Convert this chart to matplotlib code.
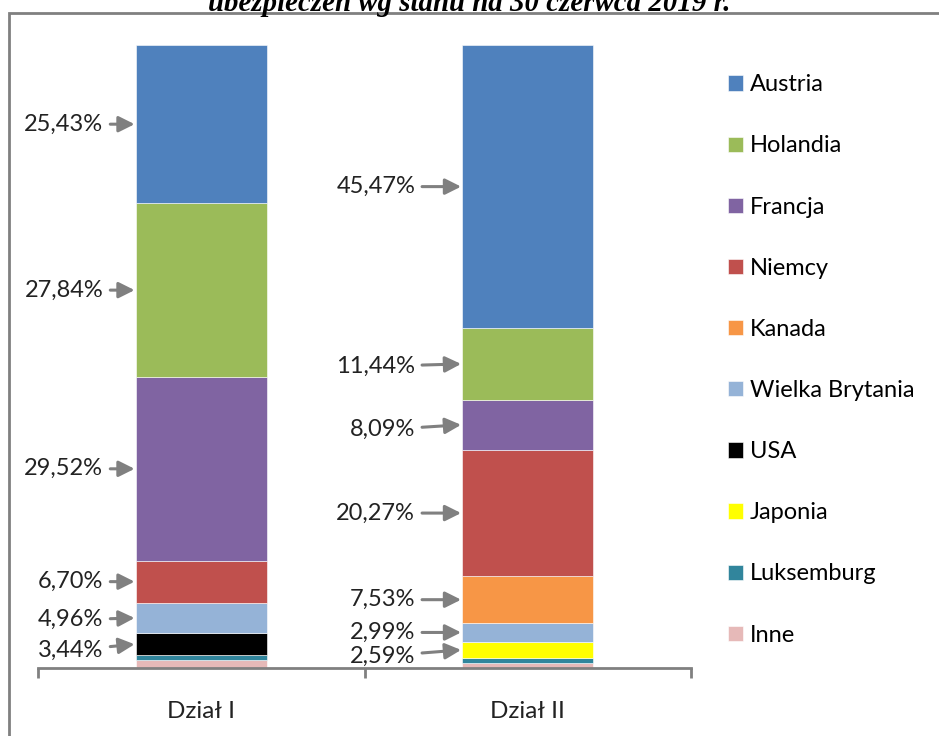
import matplotlib.pyplot as plt
from matplotlib.patches import Rectangle

plt.rcParams['font.family'] = ['Lato', 'DejaVu Sans']

categories = ['Dział I', 'Dział II']
countries = ['Inne', 'Luksemburg', 'Japonia', 'USA', 'Wielka Brytania',
             'Kanada', 'Niemcy', 'Francja', 'Holandia', 'Austria']
colors = ['#E6B9B8', '#31859C', '#FFFF00', '#000000', '#95B3D7',
          '#F79646', '#C0504D', '#8064A2', '#9BBB59', '#4F81BD']

# udzialy w % (Dzial I, Dzial II)
inne = [1.31, 0.77]
luksemburg = [0.80, 0.85]
japonia = [0.0, 2.59]
usa = [3.44, 0.0]
wielka_brytania = [4.96, 2.99]
kanada = [0.0, 7.53]
niemcy = [6.70, 20.27]
francja = [29.52, 8.09]
holandia = [27.84, 11.44]
austria = [25.43, 45.47]
values = [inne, luksemburg, japonia, usa, wielka_brytania,
          kanada, niemcy, francja, holandia, austria]

# ktore segmenty dostaja etykiete ze strzalka + male przesuniecie tekstu
labelled = [
    {'Austria': 0, 'Holandia': 0, 'Francja': 0, 'Niemcy': 0,
     'Wielka Brytania': -0.3, 'USA': -1.0},
    {'Austria': 0, 'Holandia': -0.4, 'Francja': -0.8, 'Niemcy': 0,
     'Kanada': 0, 'Wielka Brytania': 0, 'Japonia': -1.0},
]
text_gap = [0.10, 0.145]

fig = plt.figure(figsize=(9.39, 7.36), dpi=100)
ax = fig.add_axes([0.0405, 0.0924, 0.6954, 0.8465])

bw = 0.4
x = range(len(categories))
bottom = [0, 0]
centers = {}
for name, col, vals in zip(countries, colors, values):
    ax.bar(x, vals, bw, bottom=bottom, color=col, label=name,
           edgecolor='white', linewidth=0.4)
    for i in x:
        centers[(i, name)] = bottom[i] + vals[i] / 2
    bottom = [b + v for b, v in zip(bottom, vals)]

for i in x:
    for name, dy in labelled[i].items():
        v = values[countries.index(name)][i]
        yc = centers[(i, name)]
        ax.annotate(f'{v:.2f}%'.replace('.', ','),
                    xy=(i - bw / 2, yc),
                    xytext=(i - bw / 2 - text_gap[i], yc + dy),
                    ha='right', va='center', fontsize=17, color='#222222',
                    arrowprops=dict(arrowstyle='-|>', color='#808080', lw=2.2,
                                    mutation_scale=24, shrinkA=3, shrinkB=1))

ax.set_xlim(-0.5, 1.5)
ax.set_ylim(0, 100)
ax.set_yticks([])
for s in ['top', 'right', 'left']:
    ax.spines[s].set_visible(False)
ax.spines['bottom'].set_color('#808080')
ax.spines['bottom'].set_linewidth(2)
ax.set_xticks(list(x))
ax.set_xticklabels(categories, fontsize=17.5, color='#222222')
ax.set_xticks([-0.5, 0.5, 1.5], minor=True)
ax.tick_params(axis='x', which='major', length=0, pad=24)
ax.tick_params(axis='x', which='minor', length=7, width=2, color='#808080')

h, l = ax.get_legend_handles_labels()
ax.legend(h[::-1], l[::-1], loc='upper left', bbox_to_anchor=(1.042, 0.968),
          frameon=False, fontsize=17, handlelength=0.62, handleheight=0.62,
          handletextpad=0.3, labelspacing=1.7, borderaxespad=0)

# ramka wykresu
fig.patches.append(Rectangle((9 / 939, -0.1), 1.2, 1 - 13 / 736 + 0.1,
                             transform=fig.transFigure, fill=False,
                             edgecolor='#808080', linewidth=2))

fig.text(0.5, 1 - 11 / 736, 'ubezpieczeń wg stanu na 30 czerwca 2019 r.',
         ha='center', va='baseline', fontsize=20.8, fontweight='bold',
         fontstyle='italic', family='Liberation Serif')

plt.savefig('out.png', dpi=100)
